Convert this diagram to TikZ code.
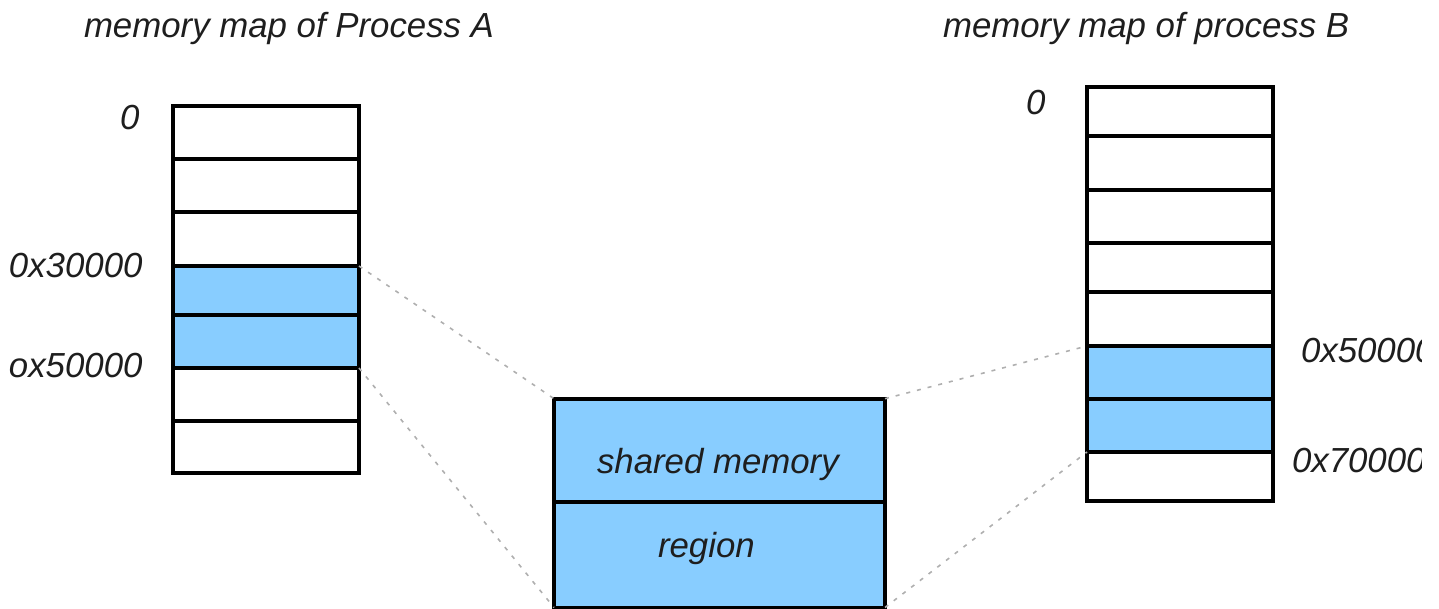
\documentclass[tikz,border=0pt]{standalone}
\usepackage{fontspec}
\setmainfont{Liberation Sans}
\definecolor{shblue}{RGB}{136,205,255}
\definecolor{linkgray}{RGB}{175,175,175}
\definecolor{txt}{RGB}{30,30,30}
\begin{document}
\begin{tikzpicture}[x=1pt,y=-1pt,
  cell/.style={draw=black, line width=4pt, fill=white, rectangle, inner sep=0pt, outer sep=0pt},
  cellA/.style={cell, minimum width=186pt},
  cellB/.style={cell, minimum width=185.5pt},
  cellS/.style={cell, minimum width=331pt, fill=shblue},
  shared/.style={fill=shblue},
  lbl/.style={inner sep=0pt, outer sep=0pt, anchor=base west, text=txt,
    font=\fontsize{34.8}{40}\selectfont\itshape},
  link/.style={draw=linkgray, line width=1.6pt, dash pattern=on 4pt off 7pt}
]
\useasboundingbox (0,0) rectangle (1439,609);

% process A memory map
\node[cellA, minimum height=53pt] (a1) at (266,132.5) {};
\node[cellA, minimum height=53pt] (a2) at (266,185.5) {};
\node[cellA, minimum height=54pt] (a3) at (266,239) {};
\node[cellA, shared, minimum height=49pt] (a4) at (266,290.5) {};
\node[cellA, shared, minimum height=53pt] (a5) at (266,341.5) {};
\node[cellA, minimum height=53pt] (a6) at (266,394.5) {};
\node[cellA, minimum height=52pt] (a7) at (266,447) {};

% process B memory map
\node[cellB, minimum height=49pt] (b1) at (1179.75,111.5) {};
\node[cellB, minimum height=54pt] (b2) at (1179.75,163) {};
\node[cellB, minimum height=53pt] (b3) at (1179.75,216.5) {};
\node[cellB, minimum height=49pt] (b4) at (1179.75,267.5) {};
\node[cellB, minimum height=54pt] (b5) at (1179.75,319) {};
\node[cellB, shared, minimum height=53pt] (b6) at (1179.75,372.5) {};
\node[cellB, shared, minimum height=53pt] (b7) at (1179.75,425.5) {};
\node[cellB, minimum height=49pt] (b8) at (1179.75,476.5) {};

% shared memory region
\node[cellS, minimum height=103.3pt] (s1) at (719.5,450.35) {};
\node[cellS, minimum height=105.5pt] (s2) at (719.5,554.75) {};

% mapping connectors
\draw[link] (a4.north east) -- (s1.north west);
\draw[link] (a5.south east) -- (s2.south west);
\draw[link] (s1.north east) -- (b6.north west);
\draw[link] (s2.south east) -- (b7.south west);

% labels
\node[lbl] (titleA) at (84,38) {memory map of Process A};
\node[lbl] (titleB) at (943,38) {memory map of process B};
\node[lbl] (zeroA) at (120,130) {0};
\node[lbl] (zeroB) at (1026,115) {0};
\node[lbl] (a30) at (9,278) {0x30000};
\node[lbl] (a50) at (9,377) {ox50000};
\node[lbl] (sh1) at (597,473) {shared memory};
\node[lbl] (sh2) at (658,557) {region};
\begin{scope}
  \clip (0,0) rectangle (1421,609);
  \node[lbl] (b50) at (1301,362) {0x50000};
  \node[lbl] (b70) at (1292,472) {0x70000};
\end{scope}
\end{tikzpicture}
\end{document}
